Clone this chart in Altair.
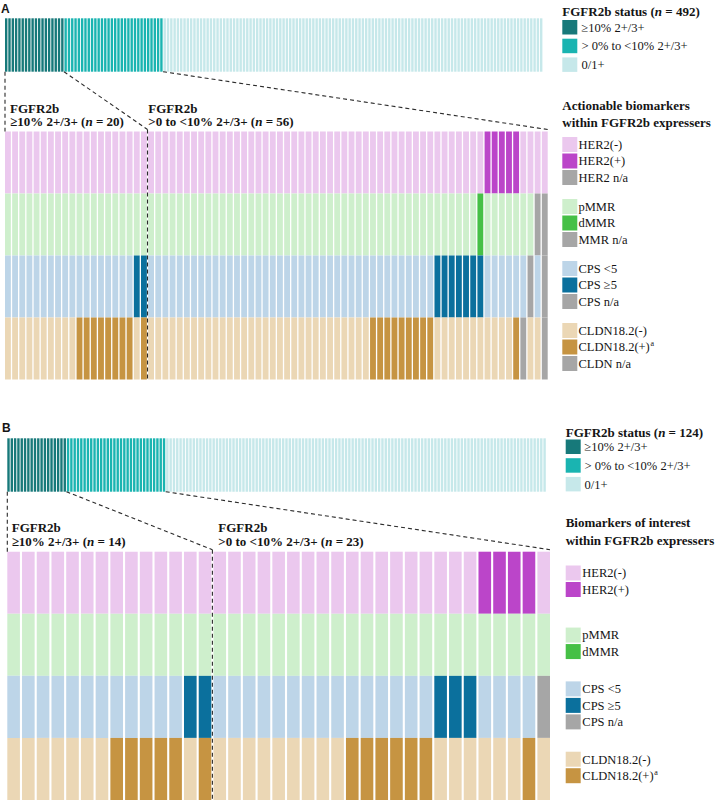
import altair as alt
import pandas as pd

CANVAS_W, CANVAS_H = 715, 800

# ---------------------------------------------------------------- data
# FGFR2b status strip: categories, colours and number of stripes drawn
STATUS_LABELS = ["≥10% 2+/3+", "> 0% to <10% 2+/3+", "\u00a00/1+"]
STATUS_COLORS = ["#17797a", "#1ab4b1", "#c6e8ea"]
STATUS_STRIPES = [18, 30, 115]

# biomarker rows (top to bottom); codes: N = negative/low, P = positive/high, X = n/a
MARKERS = ["HER2", "MMR", "CPS", "CLDN"]
MARKER_COLORS = {
    "HER2": {"N": "#ebc8ee", "P": "#bb45c9", "X": "#a6a6a6"},
    "MMR": {"N": "#ceefcc", "P": "#46c046", "X": "#a6a6a6"},
    "CPS": {"N": "#bdd5e8", "P": "#0b709d", "X": "#a6a6a6"},
    "CLDN": {"N": "#ebd7b5", "P": "#c69442", "X": "#a6a6a6"},
}
MARKER_LABELS = {
    "HER2": {"N": "HER2(-)", "P": "HER2(+)", "X": "HER2 n/a"},
    "MMR": {"N": "pMMR", "P": "dMMR", "X": "MMR n/a"},
    "CPS": {"N": "CPS <5", "P": "CPS ≥5", "X": "CPS n/a"},
    "CLDN": {"N": "CLDN18.2(-)", "P": "CLDN18.2(+)", "X": "CLDN n/a"},
}
GROUP_NAMES = ["≥10% 2+/3+", ">0 to <10% 2+/3+"]

# Panel A: all patients with FGFR2b status (n = 492)
A_TOTAL = 492
A_GROUP_N = [20, 56]
A_CODES = {
    "HER2": "NNNNNNNNNN NNNNNNNNNN | NNNNNNNNNN NNNNNNNNNN NNNNNNNNNN NNNNNNNNNN NNNNNNNPPP PPNNNN",
    "MMR":  "NNNNNNNNNN NNNNNNNNNN | NNNNNNNNNN NNNNNNNNNN NNNNNNNNNN NNNNNNNNNN NNNNNNPNNN NNNNXX",
    "CPS":  "NNNNNNNNNN NNNNNNNNPP | NNNNNNNNNN NNNNNNNNNN NNNNNNNNNN NNNNNNNNNN PPPPPPPNNN NNNXNX",
    "CLDN": "NNNNNNNNNN PPPPPPPPNP | NNNNNNNNNN NNNNNNNNNN NNNNNNNNNN NPPPPPPPPP NNNNNNNNNN NPXNNX",
}
A_LEGEND_ITEMS = {"HER2": "NPX", "MMR": "NPX", "CPS": "NPX", "CLDN": "NPX"}
A_LEGEND_TITLE = ["Actionable biomarkers", "within FGFR2b expressers"]

# Panel B: subset (n = 124)
B_TOTAL = 124
B_GROUP_N = [14, 23]
B_CODES = {
    "HER2": "NNNNNNNNNN NNNN | NNNNNNNNNN NNNNNNNNPP PPN",
    "MMR":  "NNNNNNNNNN NNNN | NNNNNNNNNN NNNNNNNNNN NNN",
    "CPS":  "NNNNNNNNNN NNPP | NNNNNNNNNN NNNNNPPPNN NNX",
    "CLDN": "NNNNNNNPPP PPNP | NNNNNNNNNP PPPPPNNNNN NPN",
}
B_LEGEND_ITEMS = {"HER2": "NP", "MMR": "NP", "CPS": "NPX", "CLDN": "NP"}
B_LEGEND_TITLE = ["Biomarkers of interest", "within FGFR2b expressers"]

# ---------------------------------------------------------------- layout
LAYOUT_A = dict(
    letter="A", letter_xy=(1, 13),
    bar_x0=5.0, bar_x1=543.3, bar_y0=18.3, bar_y1=71.7,
    grid_x0=5.0, grid_x1=547.7, grid_y0=131.5, grid_y1=379.5, col_gap=1.3,
    label_x=[10.0, 148.3], label_y=[112.6, 126.4],
    leg_x=562.3, leg_status_title_y=15.5, leg_status_top=20.0, leg_status_label_x=581.5,
    leg_title_y=[109.5, 127.0], leg_label_x=578.5,
)
LAYOUT_B = dict(
    letter="B", letter_xy=(2, 432),
    bar_x0=7.3, bar_x1=546.7, bar_y0=438.3, bar_y1=491.7,
    grid_x0=7.3, grid_x1=550.0, grid_y0=551.7, grid_y1=800.0, col_gap=2.1,
    label_x=[11.7, 218.3], label_y=[531.7, 546.4],
    leg_x=565.7, leg_status_title_y=436.5, leg_status_top=439.5, leg_status_label_x=584.5,
    leg_title_y=[527.0, 545.0], leg_label_x=582.3,
)

STRIPE_GAP = 0.9
SWATCH = 15.0
STATUS_PITCH = 18.7
ITEM_PITCH = 16.5
BOLD_SIZE = 13.0
REG_SIZE = 12.5

# Times-compatible advance widths (per 1000 em) for placing mixed-style text
BOLD_W = {" ": 250, "(": 333, ")": 333, "%": 1000, "+": 570, "/": 278, "<": 570, ">": 570,
          "=": 570, "≥": 549, "F": 611, "G": 778, "R": 722, "a": 500, "b": 556, "s": 389,
          "t": 333, "u": 556, "o": 500}
REG_W = {"C": 667, "L": 611, "D": 722, "N": 722, ".": 250, "(": 333, ")": 333, "+": 564}
BOLD_ITALIC_N = 556


def text_width(s, table, size):
    return sum(table.get(ch, 500) for ch in s) * size / 1000.0


rects, rules = [], []
txt_bold, txt_bi, txt_reg, txt_sup, txt_sans = [], [], [], [], []


def italic_n_text(x, y, prefix, suffix):
    w = text_width(prefix, BOLD_W, BOLD_SIZE)
    txt_bold.append(dict(x=x, y=y, text=prefix))
    txt_bi.append(dict(x=x + w, y=y, text="n"))
    txt_bold.append(dict(x=x + w + (BOLD_ITALIC_N + BOLD_W[" "]) * BOLD_SIZE / 1000.0,
                         y=y, text=suffix))


def build_panel(lay, total, group_n, codes, legend_items, legend_title):
    txt_sans.append(dict(x=lay["letter_xy"][0], y=lay["letter_xy"][1], text=lay["letter"]))

    # FGFR2b status strip
    n_stripes = sum(STATUS_STRIPES)
    sp = (lay["bar_x1"] - lay["bar_x0"]) / n_stripes
    i = 0
    bounds = []
    for color, count in zip(STATUS_COLORS, STATUS_STRIPES):
        for _ in range(count):
            x = lay["bar_x0"] + i * sp
            rects.append(dict(x=x, x2=x + sp - STRIPE_GAP, y=lay["bar_y0"], y2=lay["bar_y1"], color=color))
            i += 1
        bounds.append(lay["bar_x0"] + i * sp - STRIPE_GAP / 2)

    # biomarker grid for FGFR2b expressers
    groups = [g.replace(" ", "") for g in codes[MARKERS[0]].split("|")]
    ncol = sum(group_n)
    gap = lay["col_gap"]
    cp = (lay["grid_x1"] - lay["grid_x0"] + gap) / ncol
    rh = (lay["grid_y1"] - lay["grid_y0"]) / len(MARKERS)
    for r, m in enumerate(MARKERS):
        seq = codes[m].replace(" ", "").replace("|", "")
        assert len(seq) == ncol
        for c, code in enumerate(seq):
            x = lay["grid_x0"] + c * cp
            rects.append(dict(x=x, x2=x + cp - gap, y=lay["grid_y0"] + r * rh,
                              y2=lay["grid_y0"] + (r + 1) * rh, color=MARKER_COLORS[m][code]))
    split_x = lay["grid_x0"] + group_n[0] * cp - gap / 2
    right_x = lay["grid_x0"] + ncol * cp - gap

    # dashed connectors from the strip to the grid
    rules.append(dict(x=lay["bar_x0"], y=lay["bar_y1"], x2=lay["grid_x0"], y2=lay["grid_y0"]))
    rules.append(dict(x=bounds[0], y=lay["bar_y1"], x2=split_x, y2=lay["grid_y0"] - 2))
    rules.append(dict(x=split_x, y=lay["grid_y0"] - 2, x2=split_x, y2=lay["grid_y1"]))
    rules.append(dict(x=bounds[1], y=lay["bar_y1"], x2=right_x, y2=lay["grid_y0"] - 2))

    # group headings
    for gx, name, n in zip(lay["label_x"], GROUP_NAMES, group_n):
        txt_bold.append(dict(x=gx, y=lay["label_y"][0], text="FGFR2b"))
        italic_n_text(gx, lay["label_y"][1], name + " (", f"= {n})")

    # legend: FGFR2b status
    lx = lay["leg_x"]
    italic_n_text(lx, lay["leg_status_title_y"], "FGFR2b status (", f"= {total})")
    for k, (lab, color) in enumerate(zip(STATUS_LABELS, STATUS_COLORS)):
        top = lay["leg_status_top"] + k * STATUS_PITCH
        rects.append(dict(x=lx, x2=lx + SWATCH, y=top, y2=top + SWATCH - 0.5, color=color))
        txt_reg.append(dict(x=lay["leg_status_label_x"], y=top + SWATCH / 2 + 4.2, text=lab))

    # legend: biomarkers
    for t, ty in zip(legend_title, lay["leg_title_y"]):
        txt_bold.append(dict(x=lx, y=ty, text=t))
    for r, m in enumerate(MARKERS):
        items = legend_items[m]
        center = lay["grid_y0"] + (r + 0.5) * rh - 1.5
        top0 = center - (len(items) * ITEM_PITCH - (ITEM_PITCH - SWATCH)) / 2
        for k, code in enumerate(items):
            top = top0 + k * ITEM_PITCH
            rects.append(dict(x=lx, x2=lx + SWATCH, y=top, y2=top + SWATCH,
                              color=MARKER_COLORS[m][code]))
            lab = MARKER_LABELS[m][code]
            by = top + SWATCH / 2 + 4.3
            txt_reg.append(dict(x=lay["leg_label_x"], y=by, text=lab))
            if m == "CLDN" and code == "P":
                w = text_width(lab, REG_W, REG_SIZE)
                txt_sup.append(dict(x=lay["leg_label_x"] + w + 0.6, y=by - 5.0, text="a"))


build_panel(LAYOUT_A, A_TOTAL, A_GROUP_N, A_CODES, A_LEGEND_ITEMS, A_LEGEND_TITLE)
build_panel(LAYOUT_B, B_TOTAL, B_GROUP_N, B_CODES, B_LEGEND_ITEMS, B_LEGEND_TITLE)

# ---------------------------------------------------------------- chart
X = alt.X("x:Q", scale=alt.Scale(domain=[0, CANVAS_W]), axis=None)
Y = alt.Y("y:Q", scale=alt.Scale(domain=[0, CANVAS_H], reverse=True), axis=None)

rect_layer = alt.Chart(pd.DataFrame(rects)).mark_rect().encode(
    x=X, x2="x2:Q", y=Y, y2="y2:Q", color=alt.Color("color:N", scale=None)
)
rule_layer = alt.Chart(pd.DataFrame(rules)).mark_rule(
    color="#2b2b2b", strokeWidth=1.1, strokeDash=[4, 3]
).encode(x=X, x2="x2:Q", y=Y, y2="y2:Q")


def text_layer(rows, **style):
    return alt.Chart(pd.DataFrame(rows)).mark_text(
        align="left", baseline="alphabetic", color="#151515", **style
    ).encode(x=X, y=Y, text="text:N")


SERIF = "Liberation Serif"
layers = [
    rect_layer,
    rule_layer,
    text_layer(txt_bold, font=SERIF, fontSize=BOLD_SIZE, fontWeight="bold"),
    text_layer(txt_bi, font=SERIF, fontSize=BOLD_SIZE, fontWeight="bold", fontStyle="italic"),
    text_layer(txt_reg, font=SERIF, fontSize=REG_SIZE),
    text_layer(txt_sup, font=SERIF, fontSize=8),
    text_layer(txt_sans, font="Liberation Sans", fontSize=12, fontWeight="bold"),
]

chart = alt.layer(*layers).properties(
    width=CANVAS_W, height=CANVAS_H,
    autosize=alt.AutoSizeParams(type="none"), padding=0,
).configure_view(stroke=None)

chart.save("out.html", embed_options={"renderer": "svg", "actions": False})
